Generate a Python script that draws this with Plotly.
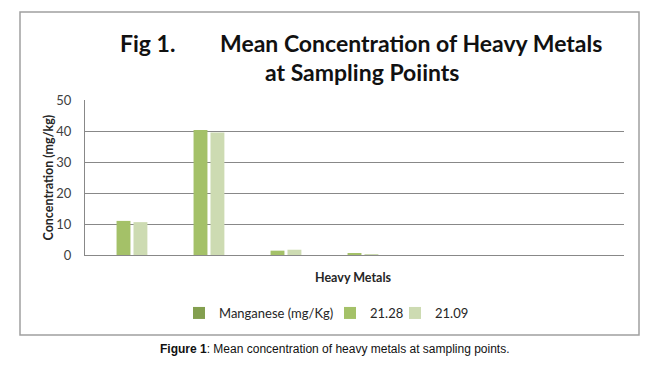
import plotly.graph_objects as go

categories = ["1", "2", "3", "4", "5", "6", "7"]
series_names = ["Manganese (mg/Kg)", "21.28", "21.09"]
manganese = [None, None, None, None, None, None, None]
s_2128 = [11.0, 40.3, 1.4, 0.4, None, None, None]
s_2109 = [10.6, 39.5, 1.7, 0.3, None, None, None]
y_ticks = [0, 10, 20, 30, 40, 50]

colors = ["#839f4f", "#a4c168", "#cddbb2"]

OFF = 8  # browser body margin
W, H = 670 - 2 * OFF, 366 - 2 * OFF
# plot area in page pixel coordinates
PL, PR, PT, PB = 85, 624, 100, 255
L, R, T, B = PL - OFF, PR - OFF, PT - OFF, PB - OFF
pw, ph = R - L, B - T


def px(x):
    return (x - PL) / pw


def py(y):
    return (PB - y) / ph


fig = go.Figure()
legends = ["legend", "legend2", "legend3"]
for name, vals, c, lg in zip(series_names, [manganese, s_2128, s_2109], colors, legends):
    fig.add_trace(go.Bar(x=categories, y=vals, name=name, marker_color=c,
                         marker_line_width=0, legend=lg))

font_main = "Lato, Carlito, Calibri, sans-serif"
leg_font = dict(family=font_main, size=13, color="#262626")
# legend symbol centre positions (page px)
leg_sym_x = [199, 350, 415]
leg_common = dict(orientation="h", xanchor="left", y=py(313), yanchor="middle",
                  font=leg_font, bgcolor="rgba(0,0,0,0)", borderwidth=0)

fig.update_layout(
    width=W, height=H,
    margin=dict(l=L, r=W - R, t=T, b=H - B, pad=0),
    paper_bgcolor="white", plot_bgcolor="white",
    barmode="group", bargap=0.34, bargroupgap=0.18,
    showlegend=True,
    legend=dict(x=px(leg_sym_x[0] - 20), **leg_common),
    legend2=dict(x=px(leg_sym_x[1] - 20), **leg_common),
    legend3=dict(x=px(leg_sym_x[2] - 20), **leg_common),
    font=dict(family=font_main, color="#404040"),
)
fig.update_xaxes(showticklabels=False, showgrid=False, showline=True,
                 linecolor="#888888", linewidth=1, ticks="", zeroline=False)
fig.update_yaxes(range=[0, 50], tickvals=y_ticks, showgrid=True,
                 gridcolor="#888888", gridwidth=1, showline=True,
                 linecolor="#888888", linewidth=1, zeroline=False,
                 ticks="outside", ticklen=10, tickcolor="rgba(0,0,0,0)",
                 tickfont=dict(family=font_main, size=13, color="#404040"))

# chart border box
fig.add_shape(type="rect", xref="paper", yref="paper",
              x0=px(20), x1=px(639), y0=py(335), y1=py(12),
              line=dict(color="#a0a0a0", width=1.5), fillcolor="rgba(0,0,0,0)",
              layer="below")

title_font = dict(family=font_main, size=23, color="#111111")
ann = []
ann.append(dict(text="<b>Fig 1.</b>", x=px(118), y=py(43), xanchor="left",
                yanchor="middle", font=title_font))
ann.append(dict(text="<b>Mean Concentration of Heavy Metals</b>", x=px(604), y=py(43),
                xanchor="right", yanchor="middle", font=title_font))
ann.append(dict(text="<b>at Sampling Poiints</b>", x=px(361.5), y=py(72),
                xanchor="center", yanchor="middle", font=title_font))
ann.append(dict(text="<b>Concentration (mg/kg)</b>", x=px(48), y=0.5, textangle=-90,
                xanchor="center", yanchor="middle",
                font=dict(family=font_main, size=12.5, color="#262626")))
ann.append(dict(text="<b>Heavy Metals</b>", x=px(353.5), y=py(277),
                xanchor="center", yanchor="middle",
                font=dict(family=font_main, size=12.5, color="#262626")))
ann.append(dict(text="<b>Figure 1</b>: Mean concentration of heavy metals at sampling points.",
                x=px(335), y=py(349), xanchor="center", yanchor="middle",
                font=dict(family="Liberation Sans, Arial, sans-serif", size=12, color="#111111")))
for a in ann:
    a.update(xref="paper", yref="paper", showarrow=False)
fig.update_layout(annotations=ann)

fig.write_html("out.html")
